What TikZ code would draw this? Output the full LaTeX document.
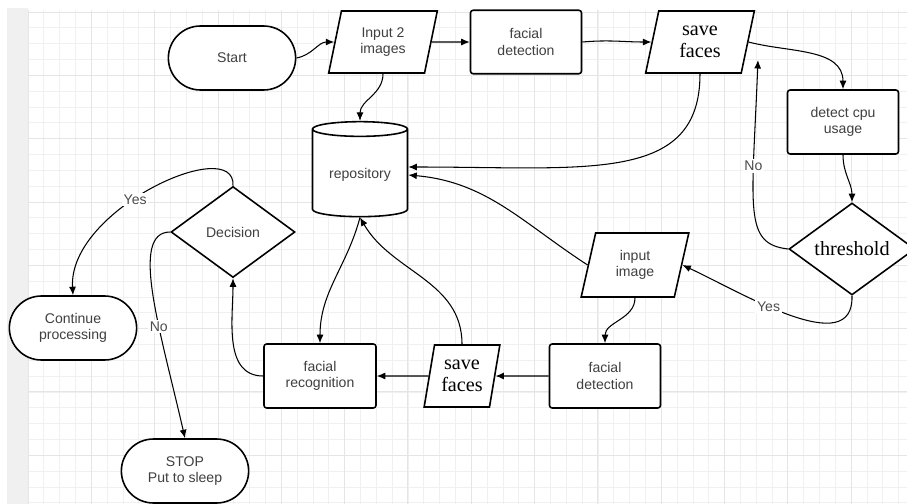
\documentclass[tikz,border=0pt]{standalone}
\usepackage{fontspec}
\setmainfont{Liberation Sans}
\newfontfamily\serifface{Liberation Serif}
\usetikzlibrary{shapes.geometric,shapes.misc,arrows.meta}

\tikzset{
  box/.style={draw, line width=0.9pt, fill=white, text=black!75,
    font=\fontsize{8}{9.5}\selectfont, align=center},
  proc/.style={box, rectangle, rounded corners=1.5pt,
    minimum width=2.22cm, minimum height=1.27cm},
  term/.style={box, rounded rectangle, minimum width=2.78cm, minimum height=1.28cm},
  io/.style={box, trapezium, trapezium stretches=true,
    trapezium left angle=78, trapezium right angle=102,
    minimum width=2.18cm, minimum height=1.24cm},
  decide/.style={box, diamond, inner sep=0pt},
  store/.style={box, cylinder, shape border rotate=90, aspect=0.2,
    minimum width=1.9cm, minimum height=1.9cm},
  serif/.style={text=black, font=\serifface\fontsize{11.5}{12.5}\selectfont},
  lbl/.style={fill=white, inner sep=1pt, text=black!70, font=\fontsize{8}{9.5}\selectfont},
  gridline/.style={black!6, line width=0.4pt},
  gridmajor/.style={black!10, line width=0.5pt},
}

\begin{document}
\begin{tikzpicture}[x=0.02cm, y=-0.02cm, >={Latex[length=1.7mm,width=1.4mm]}, line width=0.6pt]
  % paper and grid
  \useasboundingbox (0,0) rectangle (907,504);
  \fill[black!6] (7,8) rectangle (28,504);
  \foreach \gx in {0,...,55} \draw[gridline] ({28+15.83*\gx},10) -- ({28+15.83*\gx},504);
  \foreach \gy in {0,...,31} \draw[gridline] (28,{12+15.83*\gy}) -- (907,{12+15.83*\gy});
  \foreach \gx in {0,...,13} \draw[gridmajor] ({28+63.32*\gx},10) -- ({28+63.32*\gx},504);
  \foreach \gy in {0,...,7} \draw[gridmajor] (28,{12+63.32*\gy}) -- (907,{12+63.32*\gy});

  % top row
  \node[term] (start) at (232,58) {Start};
  \node[io] (in2) at (383,42) {Input 2\\images};
  \node[proc] (fd1) at (526,42) {facial\\detection};
  \node[io, serif, trapezium left angle=79, trapezium right angle=101] (sf1) at (700,42) {save\\faces};
  \node[proc, minimum height=1.28cm] (cpu) at (843,122) {detect cpu\\usage};
  \node[decide, serif, minimum width=2.52cm, minimum height=1.84cm] (thr) at (852,249) {threshold};

  % middle
  \node[store] (repo) at (360,175) {repository};
  \node[decide, minimum width=2.48cm, minimum height=1.82cm] (dec) at (233,232) {Decision};
  \node[io, minimum width=2.16cm, minimum height=1.28cm,
    trapezium left angle=77.5, trapezium right angle=102.5] (inimg) at (635,265) {input\\image};

  % bottom row
  \node[term] (cont) at (73,328) {Continue\\processing};
  \node[term] (stop) at (185,471) {STOP\\Put to sleep};
  \node[proc, minimum width=2.24cm, minimum height=1.28cm] (frec) at (320,376) {facial\\recognition};
  \node[io, serif, minimum width=1.52cm, trapezium left angle=77, trapezium right angle=103] (sf2) at (462,376) {save\\faces};
  \node[proc, minimum height=1.28cm] (fd2) at (605,376) {facial\\detection};

  \coordinate (noend) at (758,60);

  % connectors
  \draw[->] (start.east) to[out=10,in=180] (in2.west);
  \draw[->] (in2.east) to[out=0,in=180] (fd1.west);
  \draw[->] (fd1.east) to[out=5,in=180] (sf1.west);
  \draw[->] (sf1.east) to[out=-15,in=90] (cpu.north);
  \draw[->] (in2.south) to[out=-90,in=90] (repo.north);
  \draw[->] (sf1.south) .. controls +(0,110) and +(180,0) .. ([yshift=0.16cm]repo.east);
  \draw[->] (inimg.west) to[out=147,in=-5] (repo.east);
  \draw[->] (cpu.south) to[out=-90,in=90] (thr.north);
  \draw[->] (thr.west) .. controls +(-45,-5) and +(-6,150) .. (noend) node[lbl, pos=0.7] {No};
  \draw[->] (thr.south) .. controls +(2,65) and +(60,28) .. (inimg.east) node[lbl, pos=0.6] {Yes};
  \draw[->] (inimg.south) to[out=-90,in=90] (fd2.north);
  \draw[->] (fd2.west) -- (sf2.east);
  \draw[->] (sf2.north) to[out=90,in=-60] (repo.south);
  \draw[->] (repo.south) to[out=-105,in=90] (frec.north);
  \draw[->] (sf2.west) -- (frec.east);
  \draw[->] (frec.west) to[out=180,in=-90] (dec.south);
  \draw[->] (dec.north) .. controls +(3,-52) and +(-5,-86) .. (cont.north) node[lbl, pos=0.57] {Yes};
  \draw[->] (dec.west) .. controls +(-41,0) and +(-25,-109) .. (stop.north) node[lbl, pos=0.63] {No};
\end{tikzpicture}
\end{document}
